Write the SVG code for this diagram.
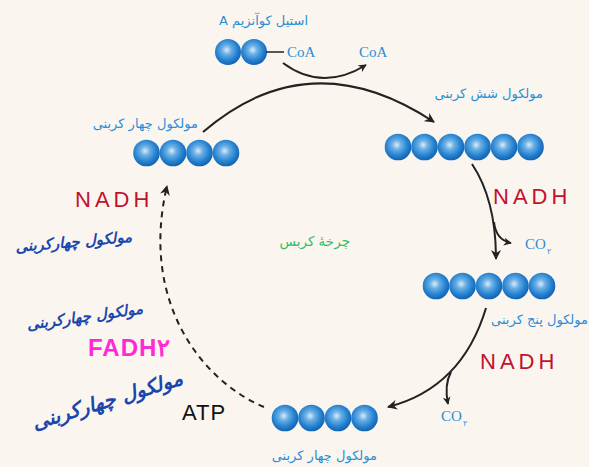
<svg xmlns="http://www.w3.org/2000/svg" width="589" height="467" viewBox="0 0 589 467">
<defs>
<radialGradient id="ball" cx="0.45" cy="0.42" r="0.58">
<stop offset="0" stop-color="#d9ecf9"/>
<stop offset="0.3" stop-color="#6cb0e6"/>
<stop offset="0.7" stop-color="#2683d0"/>
<stop offset="1" stop-color="#1262b2"/>
</radialGradient>
<marker id="ah" viewBox="0 0 10 10" refX="9" refY="5" markerWidth="10" markerHeight="10" orient="auto" markerUnits="userSpaceOnUse">
<path d="M0,0 L10,5 L0,10 L3,5 Z" fill="#222"/>
</marker>
<marker id="ahs" viewBox="0 0 10 10" refX="9" refY="5" markerWidth="8" markerHeight="8" orient="auto" markerUnits="userSpaceOnUse">
<path d="M0,0 L10,5 L0,10 L3,5 Z" fill="#222"/>
</marker>
</defs>
<style>
.lbl{font-family:"DejaVu Sans","Noto Sans",sans-serif;font-size:13px;fill:#2a8ed6}
.co{font-family:"Liberation Serif",serif;font-size:15px;fill:#2a8ed6}
.sub{font-family:"DejaVu Sans",sans-serif;font-size:8px;fill:#2a8ed6}
.hand{font-family:"DejaVu Sans",sans-serif;font-weight:bold;font-style:italic;fill:#1a47ad;font-size:15px}
.big{font-size:20px}
.nadh{font-family:"Liberation Sans",sans-serif;font-size:22px;fill:#c1122f;letter-spacing:4px}
.ln{fill:none;stroke:#222;stroke-width:2}
.b{fill:url(#ball)}
</style>
<rect width="589" height="467" fill="#fbf5ef"/>

<g id="connectors">
<path class="ln" d="M283,63 Q322,92 366,65" stroke-width="1.5" marker-end="url(#ahs)"/>
<path class="ln" d="M203,132 Q310,40 434,122" marker-end="url(#ah)"/>
<path class="ln" d="M472,164 Q496,200 496,259" marker-end="url(#ah)"/>
<path class="ln" d="M494,222 Q496,240 511,243" stroke-width="1.5" marker-end="url(#ahs)"/>
<path class="ln" d="M486,308 Q462,388 388,407" marker-end="url(#ah)"/>
<path class="ln" d="M451,372 Q444,385 448,404" stroke-width="1.5" marker-end="url(#ahs)"/>
<path class="ln" d="M264,407 C200,380 140,300 167,186" stroke-dasharray="6,5" marker-end="url(#ah)"/>
</g>

<g id="acetylcoa">
<text class="lbl" x="308" y="25" text-anchor="end">A استیل کوآنزیم</text>
<circle class="b" cx="228" cy="52" r="13"/>
<circle class="b" cx="254" cy="52" r="13"/>
<line x1="266" y1="52" x2="284" y2="52" stroke="#222" stroke-width="1.5"/>
<text class="co" x="287" y="57">CoA</text>
</g>
<g id="coa-out"><text class="co" x="359" y="57">CoA</text></g>

<g id="six-carbon">
<text class="lbl" x="543" y="98" text-anchor="end">مولکول شش کربنی</text>
<circle class="b" cx="398" cy="147" r="13.3"/>
<circle class="b" cx="424.5" cy="147" r="13.3"/>
<circle class="b" cx="451" cy="147" r="13.3"/>
<circle class="b" cx="477.5" cy="147" r="13.3"/>
<circle class="b" cx="504" cy="147" r="13.3"/>
<circle class="b" cx="530.5" cy="147" r="13.3"/>
</g>

<g id="nadh1"><text class="nadh" x="493" y="204">NADH</text></g>
<g id="co2-1"><text class="co" x="525" y="249">CO</text><text class="sub" x="547" y="254">۲</text></g>

<g id="five-carbon">
<circle class="b" cx="436" cy="286" r="13.3"/>
<circle class="b" cx="462.5" cy="286" r="13.3"/>
<circle class="b" cx="489" cy="286" r="13.3"/>
<circle class="b" cx="515.5" cy="286" r="13.3"/>
<circle class="b" cx="542" cy="286" r="13.3"/>
<text class="lbl" x="588" y="324" text-anchor="end">مولکول پنج کربنی</text>
</g>

<g id="nadh2"><text class="nadh" x="480" y="369">NADH</text></g>
<g id="co2-2"><text class="co" x="441" y="421">CO</text><text class="sub" x="463" y="426">۲</text></g>

<g id="four-carbon-bottom">
<circle class="b" cx="285" cy="418" r="13.3"/>
<circle class="b" cx="311.5" cy="418" r="13.3"/>
<circle class="b" cx="338" cy="418" r="13.3"/>
<circle class="b" cx="364.5" cy="418" r="13.3"/>
<text class="lbl" x="377" y="460" text-anchor="end">مولکول چهار کربنی</text>
</g>

<g id="four-carbon-top">
<text class="lbl" x="198" y="128" text-anchor="end">مولکول چهار کربنی</text>
<circle class="b" cx="146.5" cy="153" r="13.3"/>
<circle class="b" cx="173" cy="153" r="13.3"/>
<circle class="b" cx="199.5" cy="153" r="13.3"/>
<circle class="b" cx="226" cy="153" r="13.3"/>
</g>

<g id="krebs"><text x="350" y="246" text-anchor="end" font-family="DejaVu Sans,sans-serif" font-size="13.5" fill="#2dbd6e">چرخهٔ کربس</text></g>

<g id="notes">
<text class="nadh" x="75" y="207">NADH</text>
<text class="hand" x="132" y="247" text-anchor="end" transform="rotate(-5 72 240)">مولکول چهارکربنی</text>
<text class="hand" x="143" y="322" text-anchor="end" transform="rotate(-8 82 315)">مولکول چهارکربنی</text>
<text x="88" y="356" font-family="Liberation Sans,sans-serif" font-size="24" font-weight="bold" fill="#ff2ad4" letter-spacing="1">FADH۲</text>
<text class="hand big" x="186" y="406" text-anchor="end" transform="rotate(-17 112 402)">مولکول چهارکربنی</text>
<text x="182" y="420" font-family="Liberation Sans,sans-serif" font-size="22" fill="#111" letter-spacing="1">ATP</text>
</g>
</svg>
